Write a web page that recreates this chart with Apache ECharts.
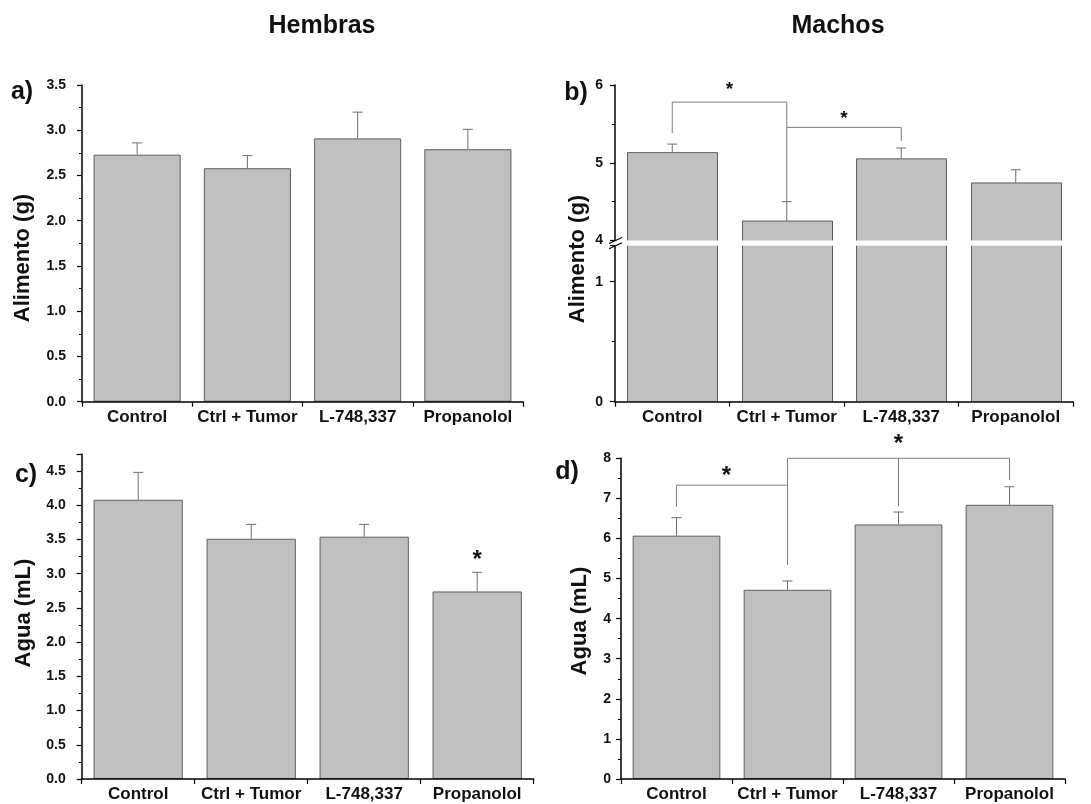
<!DOCTYPE html>
<html><head><meta charset="utf-8">
<script src="https://cdn.jsdelivr.net/npm/echarts@6/dist/echarts.min.js"></script>
<style>html,body{margin:0;padding:0;background:#fff}#c{width:1091px;height:804px}</style>
</head><body><div id="c"></div>
<script>
// ---- data ----
const categories = ['Control', 'Ctrl + Tumor', 'L-748,337', 'Propanolol'];
const foodFemale = [2.73, 2.58, 2.91, 2.79];
const foodFemaleErr = [0.13, 0.14, 0.29, 0.22];
const foodMale = [5.13, 4.25, 5.05, 4.74];
const foodMaleErr = [0.11, 0.25, 0.14, 0.17];
const waterFemale = [4.08, 3.51, 3.54, 2.74];
const waterFemaleErr = [0.40, 0.21, 0.18, 0.28];
const waterMale = [6.07, 4.72, 6.35, 6.84];
const waterMaleErr = [0.45, 0.22, 0.31, 0.45];
// significance brackets: polylines of [categoryIndex, value]
const foodMaleBrackets = [
  [[0, 5.38], [0, 5.78], [1, 5.78], [1, 4.50]],
  [[1, 5.455], [2, 5.455], [2, 5.28]]
];
const foodMaleStars = [[0.5, 5.99], [1.5, 5.62]];
const waterFemaleStars = [[3, 3.27]];
const waterMaleBrackets = [
  [[0, 6.79], [0, 7.33], [1, 7.33]],
  [[1, 5.34], [1, 8.0], [3, 8.0], [3, 7.46]],
  [[2, 8.0], [2, 6.81]]
];
const waterMaleStars = [[0.45, 7.67], [2.0, 8.47]];

// ---- style ----
const FONT = '"Liberation Sans", Arial, sans-serif';
const BAR = '#c0c0c0', EDGE = '#5e5e5e', ERR = '#6e6e6e', BRK = '#7c7c7c';
const G = {
  a: {left: 82, top: 85, width: 441, height: 316.7},
  bu: {left: 615, top: 85, width: 458, height: 155.5},
  bl: {left: 615, top: 245.7, width: 458, height: 156},
  c: {left: 81.7, top: 453.9, width: 452, height: 325.1},
  d: {left: 621, top: 458.3, width: 444, height: 320.7}
};
const BREAK_LO_MAX = 1.3;

function fmtHalf(v) { return Math.abs(v * 2 - Math.round(v * 2)) < 1e-6 ? v.toFixed(1) : ''; }
function fmtInt(v) { return Math.abs(v - Math.round(v)) < 1e-6 ? String(Math.round(v)) : ''; }

function yAx(gi, min, max, interval, fmt, margin) {
  return {type: 'value', gridIndex: gi, min, max, interval, z: 5,
    axisLine: {show: true, lineStyle: {color: '#000', width: 1.5}},
    axisTick: {show: true, inside: false, length: 5, lineStyle: {color: '#000', width: 1.2}},
    minorTick: {show: true, splitNumber: 2, length: 3, lineStyle: {color: '#000', width: 1}},
    splitLine: {show: false}, minorSplitLine: {show: false},
    axisLabel: {fontFamily: FONT, fontWeight: 'bold', fontSize: 14, color: '#111', margin, formatter: fmt}
  };
}
function xAx(gi, show) {
  return {type: 'category', gridIndex: gi, data: categories, show, z: 5,
    axisLine: {show: true, lineStyle: {color: '#000', width: 1.5}},
    axisTick: {show: true, alignWithLabel: false, length: 5, lineStyle: {color: '#000', width: 1.2}},
    axisLabel: {interval: 0, fontFamily: FONT, fontWeight: 'bold', fontSize: 17, color: '#111', margin: 7},
    splitLine: {show: false}
  };
}
function barSeries(idx, vals) {
  return {type: 'bar', xAxisIndex: idx, yAxisIndex: idx, data: vals, barWidth: '79%',
    itemStyle: {color: BAR, borderColor: EDGE, borderWidth: 1}, z: 2, silent: true};
}
function errSeries(idx, vals, errs) {
  return {type: 'custom', xAxisIndex: idx, yAxisIndex: idx, z: 3, silent: true,
    data: vals.map((v, i) => [i, v, errs[i]]),
    renderItem(params, api) {
      const i = api.value(0), v = api.value(1), e = api.value(2);
      const p0 = api.coord([i, v]), p1 = api.coord([i, v + e]);
      const hw = 5;
      return {type: 'group', children: [
        {type: 'line', shape: {x1: p0[0], y1: p0[1], x2: p1[0], y2: p1[1]}, style: {stroke: ERR, lineWidth: 1}},
        {type: 'line', shape: {x1: p1[0] - hw, y1: p1[1], x2: p1[0] + hw, y2: p1[1]}, style: {stroke: ERR, lineWidth: 1}}
      ]};
    }};
}
function catCoord(api, x, y) {
  const f = Math.floor(x), t = x - f;
  const a = api.coord([f, y]);
  if (t === 0) return a;
  const b = api.coord([f + 1, y]);
  return [a[0] + (b[0] - a[0]) * t, a[1]];
}
function bracketSeries(idx, brackets) {
  return {type: 'custom', xAxisIndex: idx, yAxisIndex: idx, z: 4, silent: true, clip: false,
    data: brackets.map((b, k) => [k]),
    renderItem(params, api) {
      const pts = brackets[params.dataIndex].map(p => api.coord(p));
      return {type: 'polyline', shape: {points: pts}, style: {stroke: BRK, lineWidth: 1, fill: null}};
    }};
}
function starSeries(idx, stars, size) {
  return {type: 'custom', xAxisIndex: idx, yAxisIndex: idx, z: 4, silent: true, clip: false,
    data: stars.map((s, k) => [k]),
    renderItem(params, api) {
      const s = stars[params.dataIndex];
      const p = catCoord(api, s[0], s[1]);
      return {type: 'text', x: p[0], y: p[1] + size * 0.22,
        style: {text: '*', font: 'bold ' + size + 'px ' + FONT, fill: '#111', textAlign: 'center', textVerticalAlign: 'middle'}};
    }};
}
function brokenBarSeries(idx, vals, lo, hi, drawTop) {
  return {type: 'custom', xAxisIndex: idx, yAxisIndex: idx, z: 2, silent: true,
    data: vals.map((v, i) => [i, v]),
    renderItem(params, api) {
      const i = api.value(0), v = Math.min(api.value(1), hi);
      const pB = api.coord([i, lo]), pT = api.coord([i, v]);
      const w = api.size([1, 0])[0] * 0.79;
      const x0 = Math.round(pB[0] - w / 2) + 0.5, x1 = Math.round(pB[0] + w / 2) + 0.5;
      const ch = [
        {type: 'rect', shape: {x: x0, y: pT[1], width: x1 - x0, height: pB[1] - pT[1]}, style: {fill: BAR}},
        {type: 'line', shape: {x1: x0, y1: pB[1], x2: x0, y2: pT[1]}, style: {stroke: EDGE, lineWidth: 1}},
        {type: 'line', shape: {x1: x1, y1: pB[1], x2: x1, y2: pT[1]}, style: {stroke: EDGE, lineWidth: 1}}
      ];
      if (drawTop) ch.push({type: 'line', shape: {x1: x0, y1: pT[1], x2: x1, y2: pT[1]}, style: {stroke: EDGE, lineWidth: 1}});
      return {type: 'group', children: ch};
    }};
}
function txt(t, x, y, size, rot) {
  return {type: 'text', x, y, rotation: rot || 0, z: 10,
    style: {text: t, font: 'bold ' + size + 'px ' + FONT, fill: '#111', textAlign: 'center', textVerticalAlign: 'middle'}};
}

const breakY1 = G.bu.top + G.bu.height, breakY2 = G.bl.top, bx = G.bu.left;
const option = {
  animation: false,
  backgroundColor: '#fff',
  grid: [G.a, G.bu, G.bl, G.c, G.d],
  xAxis: [xAx(0, true), xAx(1, false), xAx(2, true), xAx(3, true), xAx(4, true)],
  yAxis: [
    yAx(0, 0, 3.5, 0.5, fmtHalf, 16),
    yAx(1, 4, 6, 1, fmtInt, 12),
    yAx(2, 0, BREAK_LO_MAX, 1, fmtInt, 12),
    yAx(3, 0, 4.75, 0.5, fmtHalf, 16),
    yAx(4, 0, 8, 1, fmtInt, 10)
  ],
  series: [
    barSeries(0, foodFemale), errSeries(0, foodFemale, foodFemaleErr),
    brokenBarSeries(1, foodMale, 4, 6, true), errSeries(1, foodMale, foodMaleErr),
    bracketSeries(1, foodMaleBrackets), starSeries(1, foodMaleStars, 19),
    brokenBarSeries(2, foodMale, 0, BREAK_LO_MAX, false),
    barSeries(3, waterFemale), errSeries(3, waterFemale, waterFemaleErr), starSeries(3, waterFemaleStars, 24),
    barSeries(4, waterMale), errSeries(4, waterMale, waterMaleErr),
    bracketSeries(4, waterMaleBrackets), starSeries(4, waterMaleStars, 24)
  ],
  graphic: [
    txt('Hembras', 322, 26, 25), txt('Machos', 838, 26, 25),
    txt('a)', 22, 92, 25), txt('b)', 576, 93, 25), txt('c)', 26, 475, 25), txt('d)', 567, 472, 25),
    txt('Alimento (g)', 23, 258, 22, Math.PI / 2), txt('Alimento (g)', 578, 259, 22, Math.PI / 2),
    txt('Agua (mL)', 24, 613, 22, Math.PI / 2), txt('Agua (mL)', 580, 621, 22, Math.PI / 2),
    {type: 'line', z: 10, shape: {x1: bx - 6, y1: breakY1 + 3, x2: bx + 7, y2: breakY1 - 3}, style: {stroke: '#000', lineWidth: 1.2}},
    {type: 'line', z: 10, shape: {x1: bx - 6, y1: breakY2 + 3, x2: bx + 7, y2: breakY2 - 3}, style: {stroke: '#000', lineWidth: 1.2}}
  ]
};
const chart = echarts.init(document.getElementById('c'), null, {renderer: 'canvas'});
chart.setOption(option);
</script>
</body></html>
